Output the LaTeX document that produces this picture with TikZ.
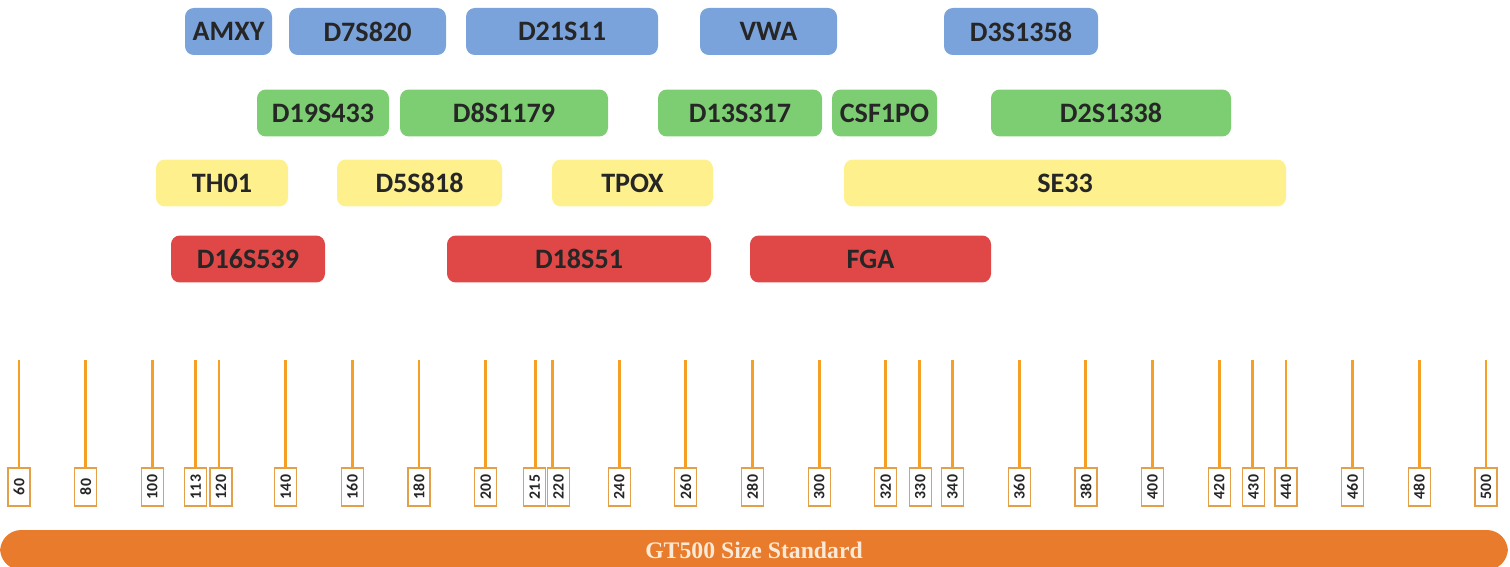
\documentclass[tikz,border=0pt]{standalone}
\usepackage{fontspec}
\setmainfont{Carlito}
\newfontfamily\barfont{Liberation Serif}
\definecolor{locblue}{HTML}{7BA3DB}
\definecolor{locgreen}{HTML}{7DCE72}
\definecolor{locyellow}{HTML}{FFF08E}
\definecolor{locred}{HTML}{E04848}
\definecolor{tickorange}{HTML}{F5A024}
\definecolor{boxorange}{HTML}{E3A048}
\definecolor{barorange}{HTML}{E97C2C}
\definecolor{bartext}{HTML}{FBE9D7}
\tikzset{
  locus/.style={rounded corners=5pt, inner sep=0pt, minimum height=0.94cm,
    text=black!85, font=\fontsize{16}{18}\selectfont\bfseries},
  sizebox/.style={draw=boxorange, line width=0.7pt, fill=white, rotate=90,
    inner sep=0pt, minimum width=0.76cm, minimum height=0.44cm,
    text=black!85, font=\fontsize{9}{10}\selectfont\bfseries},
  tick/.style={tickorange, line width=1.6pt}
}
\begin{document}
\begin{tikzpicture}[x=0.02cm, y=-0.02cm]
    \useasboundingbox (0,0) rectangle (1510,567);
    % dye rows
    \foreach \lbl/\xa/\xb in {AMXY/185/272, D7S820/289/446, D21S11/466/658, VWA/700/837, D3S1358/944/1098}
      \node[locus, fill=locblue, minimum width={(\xb-\xa)*0.02cm}] (\lbl) at ({(\xa+\xb)/2},31.5) {\lbl};
    \foreach \lbl/\xa/\xb in {D19S433/257/389, D8S1179/400/608, D13S317/658/822, CSF1PO/832/937, D2S1338/991/1231}
      \node[locus, fill=locgreen, minimum width={(\xb-\xa)*0.02cm}] (\lbl) at ({(\xa+\xb)/2},113) {\lbl};
    \foreach \lbl/\xa/\xb in {TH01/156/288, D5S818/337/502, TPOX/552/713, SE33/844/1286}
      \node[locus, fill=locyellow, minimum width={(\xb-\xa)*0.02cm}] (\lbl) at ({(\xa+\xb)/2},183) {\lbl};
    \foreach \lbl/\xa/\xb in {D16S539/171/325, D18S51/447/711, FGA/750/991}
      \node[locus, fill=locred, minimum width={(\xb-\xa)*0.02cm}] (\lbl) at ({(\xa+\xb)/2},259) {\lbl};
    % size standard
    \foreach \v/\dx in {60/0, 80/0, 100/0, 113/0, 120/2, 140/0, 160/0, 180/0, 200/0, 215/-1, 220/6,
      240/0, 260/0, 280/0, 300/0, 320/0, 330/1, 340/0, 360/0, 380/0, 400/0, 420/0, 430/1,
      440/0, 460/0, 480/0, 500/0} {
      \pgfmathsetmacro\xt{19+(\v-60)*3.334}
      \coordinate (top\v) at (\xt,360);
      \node[sizebox] (s\v) at (\xt+\dx,487) {\v};
      \draw[tick] (top\v) -- (\xt,468);
    }
    \node[fill=barorange, rounded corners=12pt, inner sep=0pt, minimum width=30.16cm,
      minimum height=0.8cm, text=bartext, font=\barfont\fontsize{13.5}{15}\selectfont\bfseries]
      (gt) at (754,550) {GT500 Size Standard};
\end{tikzpicture}
\end{document}
